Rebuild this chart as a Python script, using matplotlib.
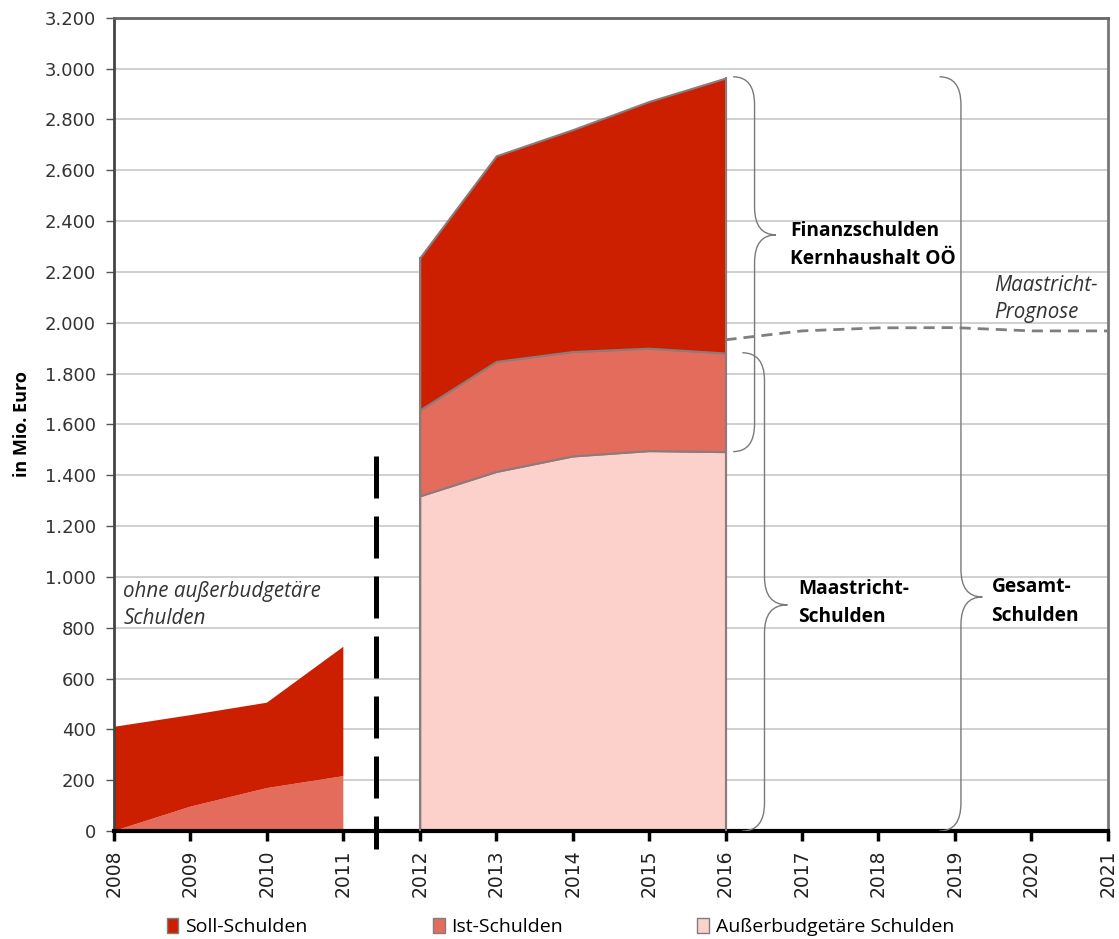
import numpy as np
import matplotlib.pyplot as plt
from matplotlib.path import Path
from matplotlib.patches import PathPatch, Patch

# values in Mio. Euro
years_old = [2008, 2009, 2010, 2011]
ist_old = [0, 96, 169, 216]
soll_old = [410, 360, 336, 509]

years_new = [2012, 2013, 2014, 2015, 2016]
aussb_new = [1319, 1415, 1476, 1497, 1493]
ist_new = [338, 433, 411, 403, 388]
soll_new = [599, 809, 873, 971, 1082]

years_prog = [2016, 2017, 2018, 2019, 2020, 2021]
maastricht_prog = [1933, 1968, 1980, 1981, 1968, 1968]

c_soll = "#cc1f00"
c_ist = "#e46c5c"
c_aussb = "#fcd0cb"
edge = "#8c7b7b"

fig = plt.figure(figsize=(11.19, 9.39), dpi=100)
ax = fig.add_axes([0.1019, 0.115, 0.888, 0.866])

# left block (no extra-budgetary debt)
ax.stackplot(years_old, ist_old, soll_old, colors=[c_ist, c_soll], linewidth=0, zorder=2)

# right block
ax.stackplot(years_new, aussb_new, ist_new, soll_new,
             colors=[c_aussb, c_ist, c_soll], edgecolor=edge, linewidth=1.5, zorder=2)
top_new = np.array(aussb_new) + np.array(ist_new) + np.array(soll_new)
ax.plot([years_new[0], years_new[0]], [0, top_new[0]], color=edge, lw=1.5, zorder=3)
ax.plot([years_new[-1], years_new[-1]], [0, top_new[-1]], color=edge, lw=1.5, zorder=3)

# Maastricht forecast
ax.plot(years_prog, maastricht_prog, color="#7f7f7f", lw=2, ls=(0, (4, 2.5)), zorder=3)

# separator between old and new data
ax.plot([2011.43, 2011.43], [1475, -72], color="black", lw=3.6, ls=(0, (8.4, 3.6)),
        zorder=5, clip_on=False, dash_capstyle="butt")


def brace(x0, x1, x2, ytop, ymid, ybot, r):
    verts = [(x0, ytop), (x1, ytop), (x1, ytop - r),
             (x1, ymid + r), (x1, ymid), (x2, ymid),
             (x1, ymid), (x1, ymid - r),
             (x1, ybot + r), (x1, ybot), (x0, ybot)]
    codes = [Path.MOVETO, Path.CURVE3, Path.CURVE3,
             Path.LINETO, Path.CURVE3, Path.CURVE3,
             Path.CURVE3, Path.CURVE3,
             Path.LINETO, Path.CURVE3, Path.CURVE3]
    ax.add_patch(PathPatch(Path(verts, codes), fill=False, ec="#7a7a7a", lw=1.0, zorder=4))


brace(2016.10, 2016.38, 2016.66, 2968, 2346, 1493, 110)
brace(2016.22, 2016.51, 2016.81, 1882, 890, 0, 110)
brace(2018.80, 2019.08, 2019.36, 2968, 921, 0, 110)

bold_font = dict(family="Open Sans", fontweight="bold", fontsize=13.8, color="black",
                 va="center", linespacing=1.55)
ital_font = dict(family="Open Sans", style="italic", fontsize=14.8, color="#333333",
                 va="center", linespacing=1.4)
ax.text(2016.85, 2307, "Finanzschulden\nKernhaushalt OÖ", **bold_font)
ax.text(2016.95, 896, "Maastricht-\nSchulden", **bold_font)
ax.text(2019.48, 903, "Gesamt-\nSchulden", **bold_font)
ax.text(2008.12, 890, "ohne außerbudgetäre\nSchulden", **ital_font)
ax.text(2019.52, 2094, "Maastricht-\nPrognose", **ital_font)

# axes styling
ax.set_xlim(2008, 2021)
ax.set_ylim(0, 3200)
ax.set_yticks(range(0, 3201, 200))
ax.set_yticklabels([f"{v:,}".replace(",", ".") for v in range(0, 3201, 200)],
                   fontsize=13, color="#333333", family="DejaVu Sans")
ax.set_xticks(range(2008, 2022))
ax.set_xticklabels([str(y) for y in range(2008, 2022)], rotation=90,
                   fontsize=13.5, color="#222222", family="DejaVu Sans")
ax.grid(axis="y", color="#c8c8c8", lw=1.2, zorder=0)
ax.set_axisbelow(True)
ax.tick_params(axis="y", length=6, width=1, color="#555555", pad=7)
ax.tick_params(axis="x", length=7, width=2.5, color="black", pad=6)
ax.spines["left"].set_color("#444444")
ax.spines["left"].set_linewidth(2)
ax.spines["bottom"].set_color("black")
ax.spines["bottom"].set_linewidth(3)
ax.spines["top"].set_color("#666666")
ax.spines["top"].set_linewidth(2)
ax.spines["right"].set_color("#777777")
ax.spines["right"].set_linewidth(2)
ax.set_ylabel("in Mio. Euro", family="Open Sans", fontweight="bold", fontsize=13, labelpad=10)

# legend: one entry per block, placed under the axis
leg_labels = ["Soll-Schulden", "Ist-Schulden", "Außerbudgetäre Schulden"]
leg_colors = [c_soll, c_ist, c_aussb]
leg_x = [0.149, 0.387, 0.623]
for lab, col, lx in zip(leg_labels, leg_colors, leg_x):
    fig.legend([Patch(facecolor=col, edgecolor="#7f7f7f")], [lab], loc="center left",
               bbox_to_anchor=(lx, 0.0128), frameon=False, borderpad=0, borderaxespad=0,
               handlelength=0.6, handleheight=0.85, handletextpad=0.35,
               prop={"family": "Open Sans", "size": 14})

fig.savefig("out.png", dpi=100)
